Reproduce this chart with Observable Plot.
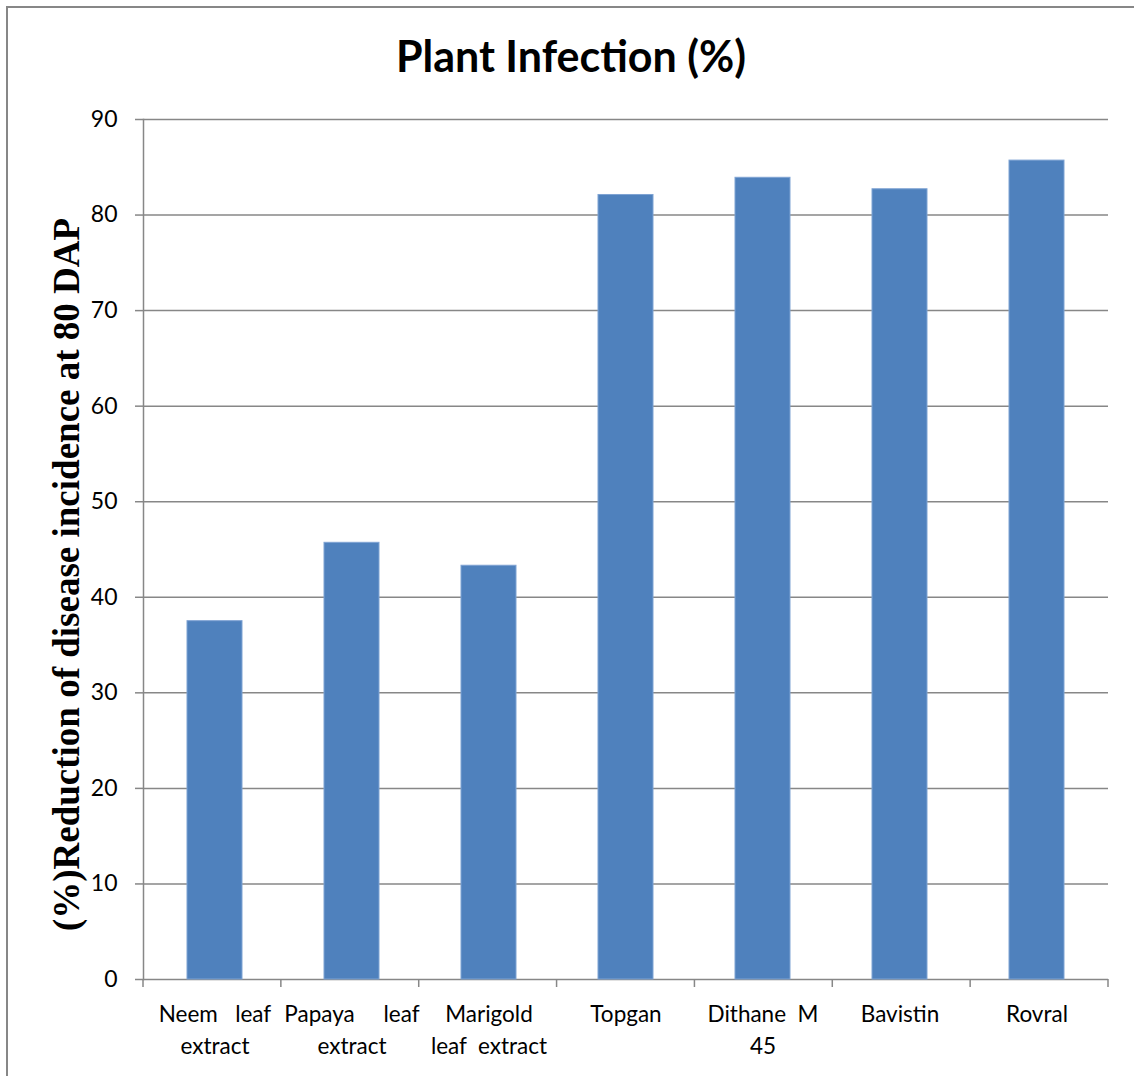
<!DOCTYPE html>
<html><head><meta charset="utf-8">
<script src="https://cdn.jsdelivr.net/npm/d3@7"></script>
<script src="https://cdn.jsdelivr.net/npm/@observablehq/plot@0.6"></script>
<style>
body{margin:0;background:#fff;}
#wrap{position:relative;width:1134px;height:1076px;overflow:hidden;background:#fff;}
#frame{position:absolute;left:6px;top:6px;width:1300px;height:1300px;border-left:2px solid #878787;border-top:2px solid #878787;}
#title{position:absolute;top:30px;left:0;width:1142px;text-align:center;font-family:Lato;font-weight:bold;font-size:43px;line-height:1.2;color:#000;}
#chart{position:absolute;left:0;top:100px;}
svg text{white-space:pre;}
</style></head><body>
<div id="wrap"><div id="frame"></div><div id="title">Plant Infection (%)</div><div id="chart"></div></div>
<script>
const categories = ["Neem leaf extract", "Papaya leaf extract", "Marigold leaf extract", "Topgan", "Dithane M 45", "Bavistin", "Rovral"];
const values = [37.5, 45.7, 43.3, 82.1, 83.9, 82.7, 85.7];
const tickLabels = ["Neem   leaf\nextract", "Papaya     leaf\nextract", "Marigold\nleaf  extract", "Topgan", "Dithane  M\n45", "Bavistin", "Rovral"];
const yTicks = [0, 10, 20, 30, 40, 50, 60, 70, 80, 90];
const yLabel = "(%)Reduction of disease incidence at 80 DAP";

const data = categories.map((c, i) => ({category: c, value: values[i]}));
const labelOf = new Map(categories.map((c, i) => [c, tickLabels[i]]));
const grey = "#878787";

const boundaryTicks = (index, scales, vals, dims) => {
  const g = d3.create("svg:g");
  const n = categories.length;
  const step = (dims.width - dims.marginLeft - dims.marginRight) / n;
  const y0 = scales.y(0);
  for (let i = 0; i <= n; i++) {
    const x = dims.marginLeft + i * step;
    g.append("line").attr("x1", x).attr("x2", x).attr("y1", y0).attr("y2", y0 + 8)
      .attr("stroke", grey).attr("stroke-width", 1.5);
  }
  return g.node();
};

const chart = Plot.plot({
  width: 1134,
  height: 976,
  marginTop: 19,
  marginBottom: 97,
  marginLeft: 143,
  marginRight: 26,
  style: {fontFamily: "Lato", background: "transparent", overflow: "visible"},
  x: {domain: categories, padding: 0.6, paddingOuter: 0.3, label: null},
  y: {domain: [0, 90], label: null},
  marks: [
    Plot.gridY(yTicks, {stroke: grey, strokeOpacity: 1, strokeWidth: 1.5}),
    Plot.frame({anchor: "left", stroke: grey, strokeWidth: 1.5}),
    Plot.barY(data, {x: "category", y: "value", fill: "#4F81BD", stroke: "#7FA3D3", strokeWidth: 1}),
    Plot.axisY({ticks: yTicks, tickSize: 8, tickPadding: 18, stroke: grey, strokeWidth: 1.5, fontSize: 23, fill: "#000", label: null}),
    Plot.axisX({tickSize: 0, tickPadding: 20, fontSize: 22.5, lineHeight: 1.42, fill: "#000", tickFormat: d => labelOf.get(d), label: null}),
    boundaryTicks,
    Plot.text([yLabel], {text: d => d, frameAnchor: "left", rotate: -90, dx: -76, dy: 25, fontSize: 37, fontFamily: "Liberation Serif", fontWeight: "bold", fill: "#000", textAnchor: "middle", lineAnchor: "middle"})
  ]
});
document.getElementById("chart").appendChild(chart);
</script>
</body></html>
